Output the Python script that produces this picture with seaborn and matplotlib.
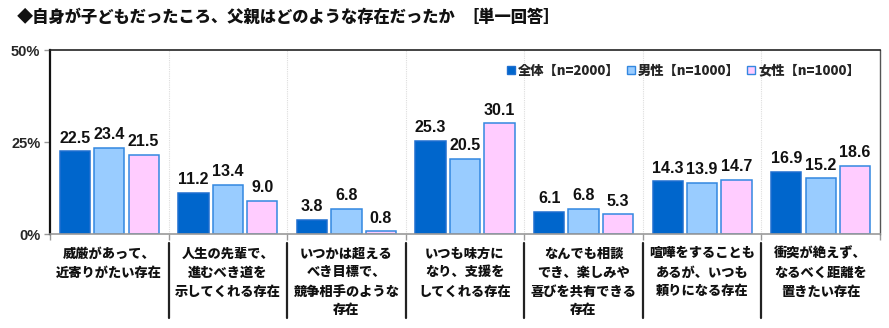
import numpy as np
import pandas as pd
import seaborn as sns
import matplotlib
matplotlib.use("Agg")
import matplotlib.pyplot as plt
from matplotlib.lines import Line2D

categories = [
    "威厳があって、\n近寄りがたい存在",
    "人生の先輩で、\n進むべき道を\n示してくれる存在",
    "いつかは超える\nべき目標で、\n競争相手のような\n存在",
    "いつも味方に\nなり、支援を\nしてくれる存在",
    "なんでも相談\nでき、楽しみや\n喜びを共有できる\n存在",
    "喧嘩をすることも\nあるが、いつも\n頼りになる存在",
    "衝突が絶えず、\nなるべく距離を\n置きたい存在",
]
series_names = ["全体【n=2000】", "男性【n=1000】", "女性【n=1000】"]
total = [22.5, 11.2, 3.8, 25.3, 6.1, 14.3, 16.9]
male = [23.4, 13.4, 6.8, 20.5, 6.8, 13.9, 15.2]
female = [21.5, 9.0, 0.8, 30.1, 5.3, 14.7, 18.6]
yticks = [0, 25, 50]
ytick_labels = ["0%", "25%", "50%"]
title = "◆自身が子どもだったころ、父親はどのような存在だったか"
title_note = "［単一回答］"

fills = ["#0066CC", "#99CCFF", "#FFCCFF"]
edges = ["#1F6FD0", "#3388E0", "#3388E0"]

sns.set_theme(style="white")
plt.rcParams["font.family"] = ["Noto Sans CJK JP", "DejaVu Sans"]

df = pd.DataFrame({
    "category": np.repeat(categories, 3),
    "series": series_names * len(categories),
    "value": [v for trio in zip(total, male, female) for v in trio],
})

fig = plt.figure(figsize=(8.89, 3.28), dpi=100)
ax = fig.add_axes([50 / 889, 1 - 234 / 328, 830 / 889, 184 / 328])

sns.barplot(data=df, x="category", y="value", hue="series",
            order=categories, hue_order=series_names,
            palette=fills, saturation=1, width=0.87, gap=0.12, ax=ax,
            legend=False, errorbar=None)

# bar edges per series, value labels on top
for cont, ec in zip(ax.containers, edges):
    for p in cont:
        p.set_edgecolor(ec)
        p.set_linewidth(1.1)
    ax.bar_label(cont, fmt="%.1f", padding=4, fontsize=11.5,
                 fontweight="bold", family=["Liberation Sans", "DejaVu Sans"],
                 color="#111111")

ax.set_xlim(-0.5, len(categories) - 0.5)
ax.set_ylim(0, 50)
ax.set_xlabel("")
ax.set_ylabel("")

# y axis
ax.set_yticks(yticks, ytick_labels)
ax.tick_params(axis="y", length=4, width=1, color="#999999", pad=3,
               labelsize=10.5, left=True)
for lab in ax.get_yticklabels():
    lab.set_fontweight("bold")
    lab.set_family(["Liberation Sans", "DejaVu Sans"])

# x axis labels
ax.set_xticks(range(len(categories)), categories)
ax.tick_params(axis="x", length=0, pad=9, labelsize=9.5, labelcolor="#111111")
for lab in ax.get_xticklabels():
    lab.set_fontweight("black")
    lab.set_linespacing(1.45)
    lab.set_verticalalignment("top")

# group boundaries
bounds = np.arange(-0.5, len(categories), 1.0)
ax.set_xticks(bounds, minor=True)
ax.tick_params(axis="x", which="minor", length=4, width=1, color="#999999",
               bottom=True)
for b in bounds[1:-1]:
    ax.axvline(b, color="#DDDDDD", lw=0.8, ls=(0, (1, 1)), zorder=0)
    ax.plot([b, b], [-0.05, -0.455], transform=ax.get_xaxis_transform(),
            color="#222222", lw=1.6, clip_on=False)

# frame
ax.spines["left"].set_color("#111111")
ax.spines["left"].set_linewidth(1.6)
ax.spines["top"].set_color("#222222")
ax.spines["top"].set_linewidth(1.2)
ax.spines["right"].set_color("#555555")
ax.spines["right"].set_linewidth(1.0)
ax.spines["bottom"].set_color("#999999")
ax.spines["bottom"].set_linewidth(1.2)

# legend
handles = [Line2D([], [], marker="s", ls="", markersize=6,
                  markerfacecolor=f, markeredgecolor=e, markeredgewidth=1)
           for f, e in zip(fills, edges)]
leg = ax.legend(handles, series_names, ncol=3, loc="upper right",
                bbox_to_anchor=(0.99, 0.99), frameon=False,
                handlelength=0.6, handletextpad=0.2, columnspacing=0.6,
                prop={"size": 9.5, "weight": "black"})

fig.text(17 / 889, 1 - 17 / 328, title, fontsize=11.7, fontweight="black",
         va="center", ha="left", color="#111111")
fig.text(462 / 889, 1 - 17 / 328, title_note, fontsize=11.7,
         fontweight="black", va="center", ha="left", color="#111111")

fig.savefig("out.png", dpi=100)
